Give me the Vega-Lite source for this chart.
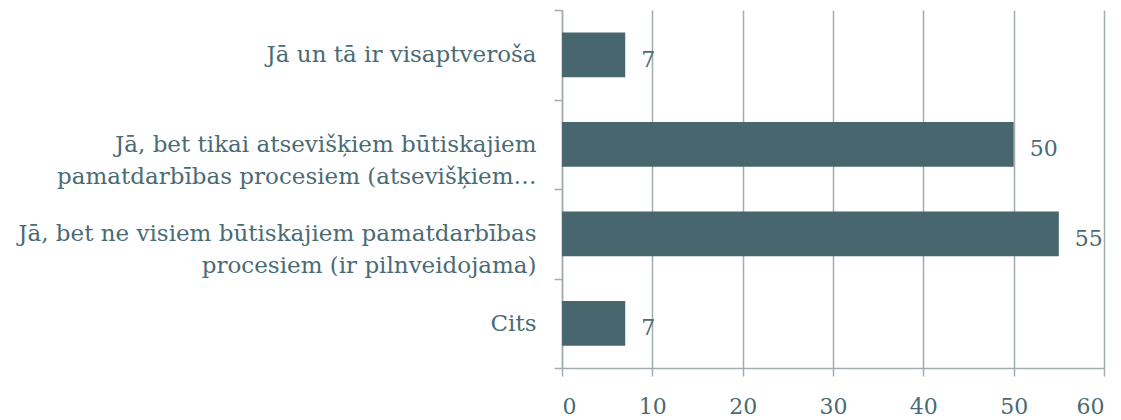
{
  "$schema": "https://vega.github.io/schema/vega-lite/v6.json",
  "width": 542,
  "height": 358,
  "autosize": {"type": "none"},
  "padding": {"left": 562, "top": 10, "right": 17, "bottom": 52},
  "background": "#ffffff",
  "config": {"view": {"stroke": null}, "font": "DejaVu Serif"},
  "data": {
    "values": [
      {"kategorija": "Jā un tā ir visaptveroša", "vertiba": 7},
      {"kategorija": "Jā, bet tikai atsevišķiem būtiskajiem|pamatdarbības procesiem (atsevišķiem…", "vertiba": 50},
      {"kategorija": "Jā, bet ne visiem būtiskajiem pamatdarbības|procesiem (ir pilnveidojama)", "vertiba": 55},
      {"kategorija": "Cits", "vertiba": 7}
    ]
  },
  "encoding": {
    "y": {
      "field": "kategorija",
      "type": "nominal",
      "sort": null,
      "scale": {"paddingInner": 0, "paddingOuter": 0},
      "axis": {
        "title": null,
        "labelExpr": "split(datum.label, '|')",
        "labelFont": "DejaVu Serif",
        "labelFontSize": 23,
        "labelColor": "#4a6b74",
        "labelLineHeight": 32,
        "labelPadding": 18,
        "labelLimit": 700,
        "tickBand": "extent",
        "tickSize": 8,
        "tickColor": "#a3acae",
        "tickWidth": 1.5,
        "domainColor": "#a3acae",
        "domainWidth": 1.5,
        "grid": false
      }
    },
    "x": {
      "field": "vertiba",
      "type": "quantitative",
      "scale": {"domain": [0, 60], "nice": false},
      "axis": {
        "title": null,
        "values": [0, 10, 20, 30, 40, 50, 60],
        "labelFont": "DejaVu Serif",
        "labelFontSize": 22,
        "labelColor": "#4a6b74",
        "labelPadding": 20,
        "tickSize": 8,
        "tickColor": "#a3acae",
        "tickWidth": 1.5,
        "domainColor": "#a3acae",
        "domainWidth": 1.5,
        "grid": true,
        "gridColor": "#a3acae",
        "gridWidth": 1.5
      }
    }
  },
  "layer": [
    {"mark": {"type": "bar", "color": "#47666e", "height": {"band": 0.5}}},
    {
      "mark": {"type": "text", "align": "left", "baseline": "middle", "dx": 16, "dy": 5, "font": "DejaVu Serif", "fontSize": 22, "color": "#4a6b74"},
      "encoding": {"text": {"field": "vertiba", "type": "quantitative"}}
    }
  ]
}
